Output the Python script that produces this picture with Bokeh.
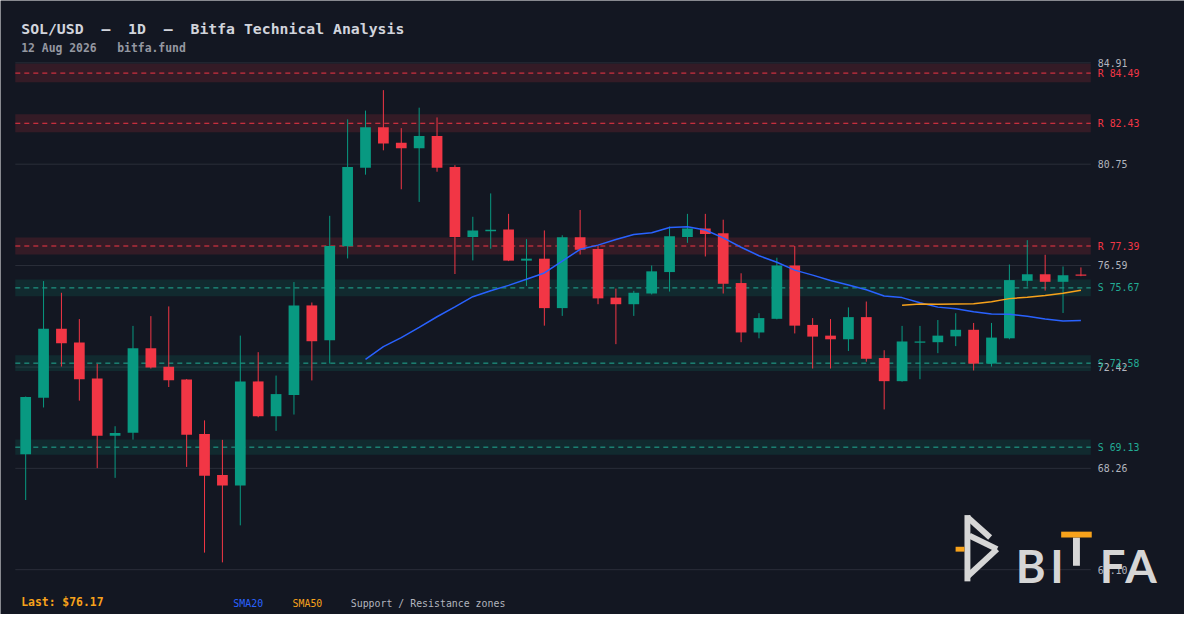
import numpy as np
import pandas as pd
from bokeh.plotting import figure
from bokeh.models import ColumnDataSource, BoxAnnotation, Label, PolyAnnotation, Range1d
from bokeh.core.properties import value
from bokeh.embed import file_html
from bokeh.resources import INLINE

# ---------------- data ----------------
opens = [68.84, 71.16, 73.99, 73.43, 71.95, 69.60, 69.72, 73.19, 72.43, 71.91,
         69.67, 67.99, 67.56, 71.83, 70.40, 71.27, 74.95, 73.52, 77.38, 80.60,
         82.27, 81.63, 81.40, 81.91, 80.63, 77.76, 78.00, 78.07, 76.79, 76.87,
         74.84, 77.75, 77.27, 75.27, 75.00, 75.44, 76.32, 77.76, 78.11, 77.91,
         75.87, 73.84, 74.40, 76.59, 74.15, 73.71, 73.56, 74.47, 72.79, 71.84,
         73.42, 73.44, 73.68, 73.95, 72.56, 73.60, 75.96, 76.23, 75.92, 76.22]
highs = [71.21, 75.95, 75.47, 74.39, 72.55, 69.99, 74.11, 74.51, 74.91, 71.93,
         70.23, 69.43, 73.71, 73.03, 72.07, 75.91, 75.07, 78.63, 82.59, 82.95,
         83.79, 82.23, 83.07, 82.67, 80.71, 78.59, 79.55, 78.71, 77.67, 78.03,
         77.83, 78.87, 77.40, 75.64, 75.55, 76.59, 78.19, 78.71, 78.71, 78.47,
         76.27, 74.63, 76.91, 77.39, 74.43, 74.39, 74.87, 75.11, 73.11, 74.11,
         74.11, 74.35, 74.63, 74.23, 74.23, 76.63, 77.63, 77.03, 76.55, 76.51]
lows = [66.96, 70.76, 72.44, 71.04, 68.27, 67.87, 69.44, 72.36, 71.60, 68.32,
        64.80, 64.40, 65.92, 70.36, 69.80, 70.47, 71.87, 72.56, 76.88, 80.32,
        81.32, 79.72, 79.20, 80.44, 76.24, 76.80, 77.28, 76.77, 75.75, 74.12,
        74.52, 77.04, 75.00, 73.36, 74.52, 75.40, 75.52, 77.52, 76.96, 75.44,
        73.44, 73.60, 74.38, 73.80, 72.36, 72.36, 73.08, 72.64, 70.68, 71.82,
        71.92, 72.99, 73.28, 72.28, 72.44, 73.56, 75.72, 75.56, 74.64, 76.15]
closes = [71.19, 73.99, 73.40, 71.92, 69.60, 69.71, 73.19, 72.40, 71.88, 69.64,
          67.96, 67.56, 71.83, 70.40, 71.31, 74.95, 73.48, 77.39, 80.63, 82.27,
          81.60, 81.40, 81.91, 80.60, 77.76, 78.03, 78.06, 76.79, 76.87, 74.84,
          77.75, 77.24, 75.24, 75.00, 75.47, 76.35, 77.79, 78.11, 77.88, 75.84,
          73.84, 74.43, 76.59, 74.12, 73.67, 73.56, 74.47, 72.76, 71.84, 73.47,
          73.47, 73.71, 73.95, 72.56, 73.63, 75.99, 76.23, 75.92, 76.19, 76.17]

resistance_levels = [84.49, 82.43, 77.39]
support_levels = [75.67, 72.58, 69.13]
y_ticks = [64.10, 68.26, 72.42, 76.59, 80.75, 84.91]
y_tick_labels = ["64.10", "68.26", "72.42", "76.59", "80.75", "84.91"]

NB = "\u00a0"
title_text = f"SOL/USD{NB*2}\u2013{NB*2}1D{NB*2}\u2013{NB*2}Bitfa Technical Analysis"
subtitle_text = f"12 Aug 2026{NB*3}bitfa.fund"
last_price = 76.17

# ---------------- style ----------------
BG = "#131722"
UP = "#089981"
DOWN = "#F23645"
SUP = "#22ab94"
GRID = "#2a2e39"
TXT = "#b2b5be"
SMA20_C = "#2962FF"
SMA50_C = "#F7A21B"
MONO = "DejaVu Sans Mono"

W, H = 1184, 614
KX, KY = W / 1200, H / 630        # reference picture -> canvas

def cx(X):
    return X * KX

def cy(Y):
    return Y * KY

def fs(px):
    return f"{px * KX:.1f}px"

# plot area in reference pixels
RL, RR, RT, RB = 15, 1105, 64, 584
AL, AR, AT, AB = cx(RL), W - cx(RR), cy(RT), H - cy(RB)
# data extent of the plot area
PX0, PX1 = -0.58, 59.55
PY0, PY1 = y_ticks[0], y_ticks[-1]
xppu = (W - AL - AR) / (PX1 - PX0)
yppu = (H - AT - AB) / (PY1 - PY0)
x_range = Range1d(PX0 - AL / xppu, PX1 + AR / xppu)
y_range = Range1d(PY0 - AB / yppu, PY1 + AT / yppu)

idx = list(range(len(closes)))
colors = [UP if c >= o else DOWN for o, c in zip(opens, closes)]
src = ColumnDataSource(dict(
    x=idx, open=opens, high=highs, low=lows, close=closes,
    top=[max(o, c) for o, c in zip(opens, closes)],
    bottom=[min(o, c) for o, c in zip(opens, closes)],
    color=colors,
))
cs = pd.Series(closes)
sma_src = ColumnDataSource(dict(
    x=idx,
    sma20=cs.rolling(20).mean().to_numpy(),
    sma50=cs.rolling(50).mean().to_numpy(),
))

p = figure(width=W, height=H, output_backend="svg", toolbar_location=None, tools="",
           x_range=x_range, y_range=y_range,
           x_axis_location=None, y_axis_location=None,
           min_border=0, min_border_left=0, min_border_right=0, min_border_top=0, min_border_bottom=0,
           background_fill_color=BG, border_fill_color=BG, outline_line_color=None)
p.outline_line_color = None
for g in p.grid:
    g.visible = False

# horizontal grid lines at the price ticks, limited to the plot area
n = len(y_ticks)
p.segment(x0=[PX0] * n, x1=[PX1] * n, y0=y_ticks, y1=y_ticks, line_color=GRID, line_width=1)
p.text(x=[PX1] * n, y=y_ticks, text=y_tick_labels, x_offset=7, text_baseline="middle",
       text_color=TXT, text_font=value(MONO), text_font_size=fs(10))

# support / resistance zones
def zones(levels, fill, line, prefix):
    k = len(levels)
    half = [l * 0.0045 for l in levels]
    p.quad(left=[PX0] * k, right=[PX1] * k, bottom=[l - h for l, h in zip(levels, half)],
           top=[l + h for l, h in zip(levels, half)], fill_color=fill, fill_alpha=0.15, line_color=None)
    p.segment(x0=[PX0] * k, x1=[PX1] * k, y0=levels, y1=levels, line_color=line, line_width=1,
              line_dash="5 4")
    p.text(x=[PX1] * k, y=levels, text=[f"{prefix} {l:.2f}" for l in levels], x_offset=7,
           text_baseline="middle", text_color=line, text_font=value(MONO), text_font_size=fs(10))

zones(resistance_levels, DOWN, DOWN, "R")
zones(support_levels, UP, SUP, "S")

# candles
p.segment(x0="x", y0="low", x1="x", y1="high", source=src, line_color="color", line_width=1)
p.vbar(x="x", width=0.6, top="top", bottom="bottom", source=src, fill_color="color", line_color=None)

# moving averages
p.line("x", "sma20", source=sma_src, line_color=SMA20_C, line_width=1.5)
p.line("x", "sma50", source=sma_src, line_color=SMA50_C, line_width=1.5)

# ---------------- texts (screen units; reference pixel -> canvas) ----------------
def sx(X):
    return cx(X)

def sy(Y):
    return H - cy(Y)

def lab(X, Y, text, color, size, bold=False, font=MONO):
    p.add_layout(Label(x=sx(X), y=sy(Y), x_units="screen", y_units="screen", text=text,
                       text_color=color, text_font=font, text_font_size=fs(size),
                       text_font_style="bold" if bold else "normal", text_baseline="alphabetic"))

lab(21, 29, title_text, "#d1d4dc", 15, bold=True)
lab(21, 49, subtitle_text, "#9598a1", 11.6, bold=True)
lab(21, 617, f"Last: ${last_price:.2f}", SMA50_C, 11.6, bold=True)
lab(236, 619, "SMA20", SMA20_C, 10)
lab(296, 619, "SMA50", SMA50_C, 10)
lab(355, 619, "Support / Resistance zones", TXT, 10)

# ---------------- logo ----------------
LOGO = "#d6d6d6"

def stroke(x1, y1, x2, y2, w, color):
    dx, dy = x2 - x1, y2 - y1
    d = (dx * dx + dy * dy) ** 0.5
    ox, oy = -dy / d * w / 2, dx / d * w / 2
    xs = [sx(x1 + ox), sx(x2 + ox), sx(x2 - ox), sx(x1 - ox)]
    ys = [sy(y1 + oy), sy(y2 + oy), sy(y2 - oy), sy(y1 - oy)]
    p.add_layout(PolyAnnotation(xs=xs, ys=ys, xs_units="screen", ys_units="screen",
                                fill_color=color, fill_alpha=1, line_color=None))

stroke(980, 528, 980, 596, 6, LOGO)
stroke(980, 530, 1003, 551, 6, LOGO)
stroke(982, 549, 1010, 563, 6, LOGO)
stroke(1010, 563, 980, 591, 6, LOGO)
stroke(968, 563, 977, 563, 5, SMA50_C)

for X, ch in [(1029, "B"), (1064, "I"), (1114, "F"), (1140, "A")]:
    lab(X, 580, ch, LOGO, 46, bold=True, font="Lato")

def sbox(l, r, t, b, color):
    p.add_layout(BoxAnnotation(left=sx(l), right=sx(r), top=sy(t), bottom=sy(b),
                               left_units="screen", right_units="screen", top_units="screen",
                               bottom_units="screen", fill_color=color, fill_alpha=1, line_color=None))

sbox(1087, 1094, 551, 580, LOGO)
sbox(1075, 1106, 545, 551, SMA50_C)

open("out.html", "w").write(file_html(p, INLINE))
